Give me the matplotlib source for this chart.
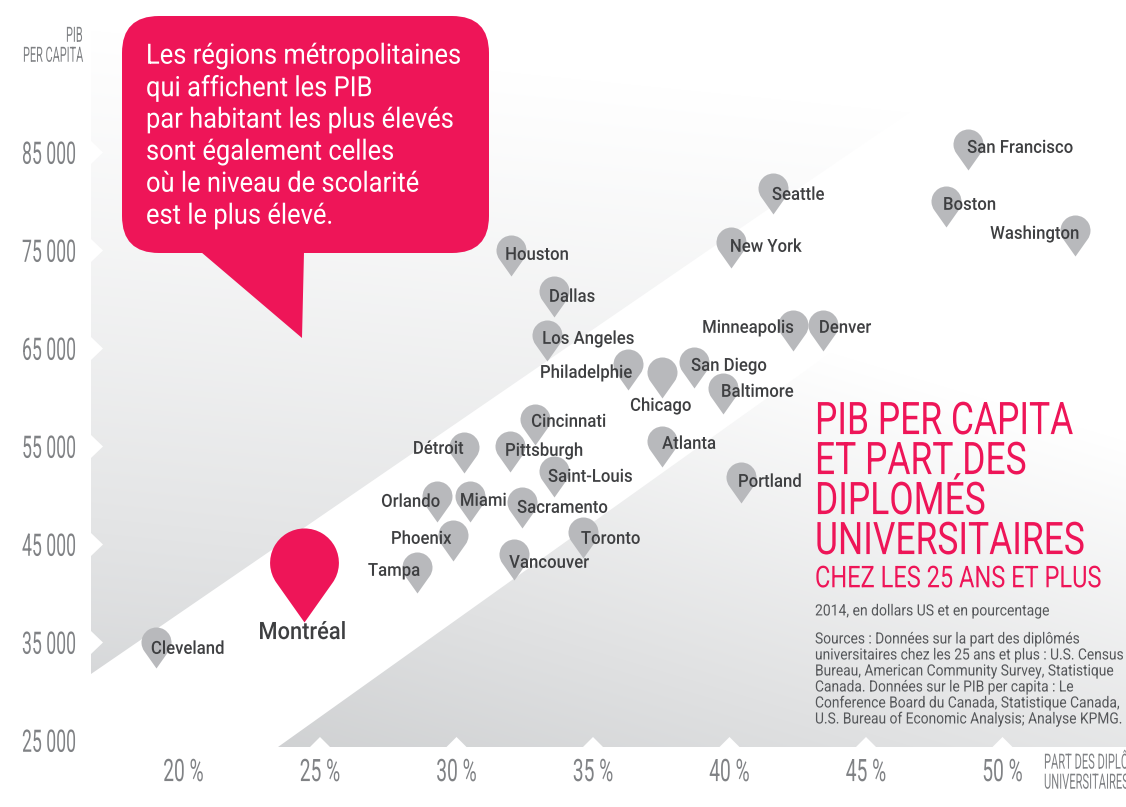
import numpy as np
import matplotlib
matplotlib.use("Agg")
import matplotlib.pyplot as plt
import matplotlib.patheffects as pe
from matplotlib.path import Path
from matplotlib.patches import Polygon, FancyBboxPatch
from matplotlib.transforms import Affine2D, IdentityTransform

# ---------- data ----------
cities = ["San Francisco", "Boston", "Washington", "Seattle", "New York", "Houston", "Dallas",
          "Los Angeles", "Minneapolis", "Denver", "Philadelphie", "Chicago", "San Diego", "Baltimore",
          "Cincinnati", "Détroit", "Pittsburgh", "Atlanta", "Saint-Louis", "Portland", "Orlando",
          "Miami", "Sacramento", "Toronto", "Phoenix", "Vancouver", "Tampa", "Cleveland"]
share = [48.74, 47.93, 52.66, 41.59, 40.05, 32.0, 33.57, 33.32, 42.33, 43.42, 36.28, 37.53, 38.7,
         39.76, 32.88, 30.27, 31.96, 37.53, 33.57, 40.42, 29.29, 30.49, 32.4, 34.63, 29.87, 32.11,
         28.55, 18.99]
gdp = [83214, 77398, 74439, 78724, 73214, 72398, 68214, 63724, 64745, 64745, 60765, 59949, 60969,
       58316, 55153, 52296, 52398, 52908, 49847, 49235, 47296, 47296, 46684, 43622, 43316, 41378,
       40051, 32398]
mtl_name = "Montréal"
mtl_share = 24.43
mtl_gdp = 37092
xticks = [20, 25, 30, 35, 40, 45, 50]
xticklabels = ["20 %", "25 %", "30 %", "35 %", "40 %", "45 %", "50 %"]
yticks = [25000, 35000, 45000, 55000, 65000, 75000, 85000]
yticklabels = ["25 000", "35 000", "45 000", "55 000", "65 000", "75 000", "85 000"]

callout_lines = ["Les régions métropolitaines", "qui affichent les PIB", "par habitant les plus élevés",
                 "sont également celles", "où le niveau de scolarité", "est le plus élevé."]
title_lines = ["PIB PER CAPITA", "ET PART DES", "DIPLOMÉS", "UNIVERSITAIRES"]
subtitle = "CHEZ LES 25 ANS ET PLUS"
unit_note = "2014, en dollars US et en pourcentage"
source_lines = ["Sources : Données sur la part des diplômés",
                "universitaires chez les 25 ans et plus : U.S. Census",
                "Bureau, American Community Survey, Statistique",
                "Canada. Données sur le PIB per capita : Le",
                "Conference Board du Canada, Statistique Canada,",
                "U.S. Bureau of Economic Analysis; Analyse KPMG."]

# ---------- layout (label offsets from each pin tip, in pixels, same order as cities) ----------
label_dx = [-1, -3, -85, -1, -1, -6, -5, -5, -91, -4, -88, -32, -3, -2, -4, -51, -5, 0, -6, -3, -56,
            -10, -5, -2, -62, -5, -49, -5]
label_dy = [-23, -23, -23, -20, -22, -22, -21, -23, -24, -24, -18, 7, -23, -23, -24, -25, -22, -24,
            -21, -22, -21, -22, -21, -20, -23, -18, -23, -20]

W, H = 1126, 807
PINK = "#ee1558"
GREY_T = "#808285"
DARK = "#3e3f41"
FONT = "Roboto"

fig = plt.figure(figsize=(W / 100, H / 100), dpi=100, facecolor="white")
ax = fig.add_axes([91 / W, (H - 747) / H, (W - 91) / W, 747 / H])
ax.set_xlim(25 + (91 - 320) / 27.3, 25 + (W - 320) / 27.3)
ax.set_ylim(85000 - (747 - 152.5) / 98 * 1e4, 85000 + 152.5 / 98 * 1e4)
for s in ax.spines.values():
    s.set_visible(False)
PX = Affine2D().scale(1, -1).translate(0, H)


class Tall(pe.AbstractPathEffect):
    """Stretch glyphs vertically by g around display height y0 (condensed look), then shift by dy."""
    def __init__(self, g, y0, dy=0):
        super().__init__()
        self.g, self.y0, self.dy = g, y0, dy

    def draw_path(self, renderer, gc, tpath, affine, rgbFace=None):
        a = affine + Affine2D().translate(0, -self.y0).scale(1, self.g).translate(0, self.y0 + self.dy)
        renderer.draw_path(gc, tpath, a, rgbFace)


def T(x, y, s, px, f, color, weight="normal", z=8):
    t = ax.text(x, y, s, transform=PX, fontsize=px * f * 0.72, family=FONT, weight=weight, color=color,
                ha="left", va="center", zorder=z, clip_on=False)
    t.set_path_effects([Tall(1 / f, H - y)])
    return t


# ---------- background ----------
yy, xx = np.mgrid[0:747, 91:W]
lims = (ax.get_xlim(), ax.get_ylim())
ext = (*lims[0], *lims[1])


def ramp(t, low):
    t = np.clip(t, 0, 1)
    v = low + (255 - low) * t
    b = 3 * (1 - t)
    return np.dstack([v, v + b * 0.5, v + b]).clip(0, 255) / 255


up = ramp(np.clip(((670 - yy) + 0.1 * (xx - 91)) / 640, 0, 1) ** 0.75, 214)
lo = ramp(((747 - yy) + 0.3 * (xx - 280)) / 560, 208)
for img, poly in [(up, [(91, 674), (1073, 0), (91, 0)]),
                  (lo, [(278, 747), (1077, 177), (W, 210), (W, 747)])]:
    im = ax.imshow(img, extent=ext, origin="upper", aspect="auto", zorder=0, interpolation="bilinear")
    im.set_clip_path(Polygon(poly, transform=PX))
ax.set_xlim(lims[0])
ax.set_ylim(lims[1])

# tick notches
for v in yticks:
    yp = ax.transData.transform((0, v))[1]
    ax.add_patch(Polygon([(91, yp + 11.5), (103, yp), (91, yp - 11.5)], transform=IdentityTransform(),
                         fc="white", ec="none", zorder=1, clip_on=False))
for v in xticks[1:]:
    xp = ax.transData.transform((v, 0))[0]
    ax.add_patch(Polygon([(xp - 10, H - 747), (xp, H - 737), (xp + 10, H - 747)], transform=IdentityTransform(),
                         fc="white", ec="none", zorder=1, clip_on=False))

# ---------- axes labels ----------
ax.set_xticks(xticks, xticklabels)
ax.set_yticks(yticks, yticklabels)
ax.tick_params(length=0, labelcolor=GREY_T)
ax.tick_params(axis="y", pad=69 * 0.72)
ax.tick_params(axis="x", pad=24 * 0.72)
fy, fx = 0.57, 0.62
for v, t in zip(yticks, ax.get_yticklabels()):
    t.set(family=FONT, fontsize=31 * fy * 0.72, ha="left", va="center")
    t.set_path_effects([Tall(1 / fy, ax.transData.transform((0, v))[1], dy=-2.5)])
for t in ax.get_xticklabels():
    t.set(family=FONT, fontsize=31 * fx * 0.72, va="center")
    t.set_path_effects([Tall(1 / fx, H - 771, dy=-2)])

T(66, 36, "PIB", 21, 0.52, GREY_T)
T(23, 56, "PER CAPITA", 21, 0.52, GREY_T)
T(1044, 763, "PART DES DIPLÔMÉS", 21, 0.53, GREY_T)
T(1044, 783, "UNIVERSITAIRES", 21, 0.53, GREY_T)

# ---------- pins ----------
hp = 1.0
rp = 0.366
d = hp - rp
a = np.degrees(np.arcsin(rp / d))
arc = Path.arc(-a, 180 + a)
verts = np.vstack([[(0, 0)], arc.vertices * rp + (0, d), [(0, 0)]])
codes = [Path.MOVETO] + [Path.LINETO] + list(arc.codes[1:]) + [Path.CLOSEPOLY]
pin = Path(verts, codes)

ax.scatter(share, gdp, marker=pin, s=3487, c="#b8b9bc", linewidths=0, zorder=3)
ax.scatter([mtl_share], [mtl_gdp], marker=pin, s=18333, c=PINK, linewidths=0, zorder=3)


def city_label(name, x, y, dx, dy, px, f):
    t = ax.annotate(name, (x, y), xytext=(dx, -dy), textcoords="offset pixels", family=FONT, weight="medium",
                    fontsize=px * f * 0.72, color=DARK, ha="left", va="center", zorder=4)
    t.set_path_effects([Tall(1 / f, ax.transData.transform((x, y))[1] - dy)])


for n, x, y, dx, dy in zip(cities, share, gdp, label_dx, label_dy):
    city_label(n, x, y, dx, dy + 1, 18, 0.93)
city_label(mtl_name, mtl_share, mtl_gdp, -46, 11, 24, 0.91)

# ---------- callout ----------
ax.add_patch(FancyBboxPatch((122, 16), 367, 237, boxstyle="round,pad=0,rounding_size=37", transform=PX,
                            fc=PINK, ec="none", zorder=6, clip_on=False))
ax.add_patch(Polygon([(201, 252), (302, 338), (304, 252)], transform=PX, fc=PINK, ec="none", zorder=6))
for i, line in enumerate(callout_lines):
    T(146, 56 + 32 * i, line, 28, 0.91, "white")

# ---------- title block ----------
for line, yp in zip(title_lines, [422, 462, 502, 542]):
    T(815, yp, line, 45, 0.787, PINK)
T(815, 579, subtitle, 30, 0.787, PINK)
T(815, 611, unit_note, 15.5, 0.9, "#55575a")
for i, line in enumerate(source_lines):
    T(815, 639 + 16 * i, line, 15.5, 0.89, "#55575a")

fig.savefig("out.png", dpi=100, facecolor="white")
